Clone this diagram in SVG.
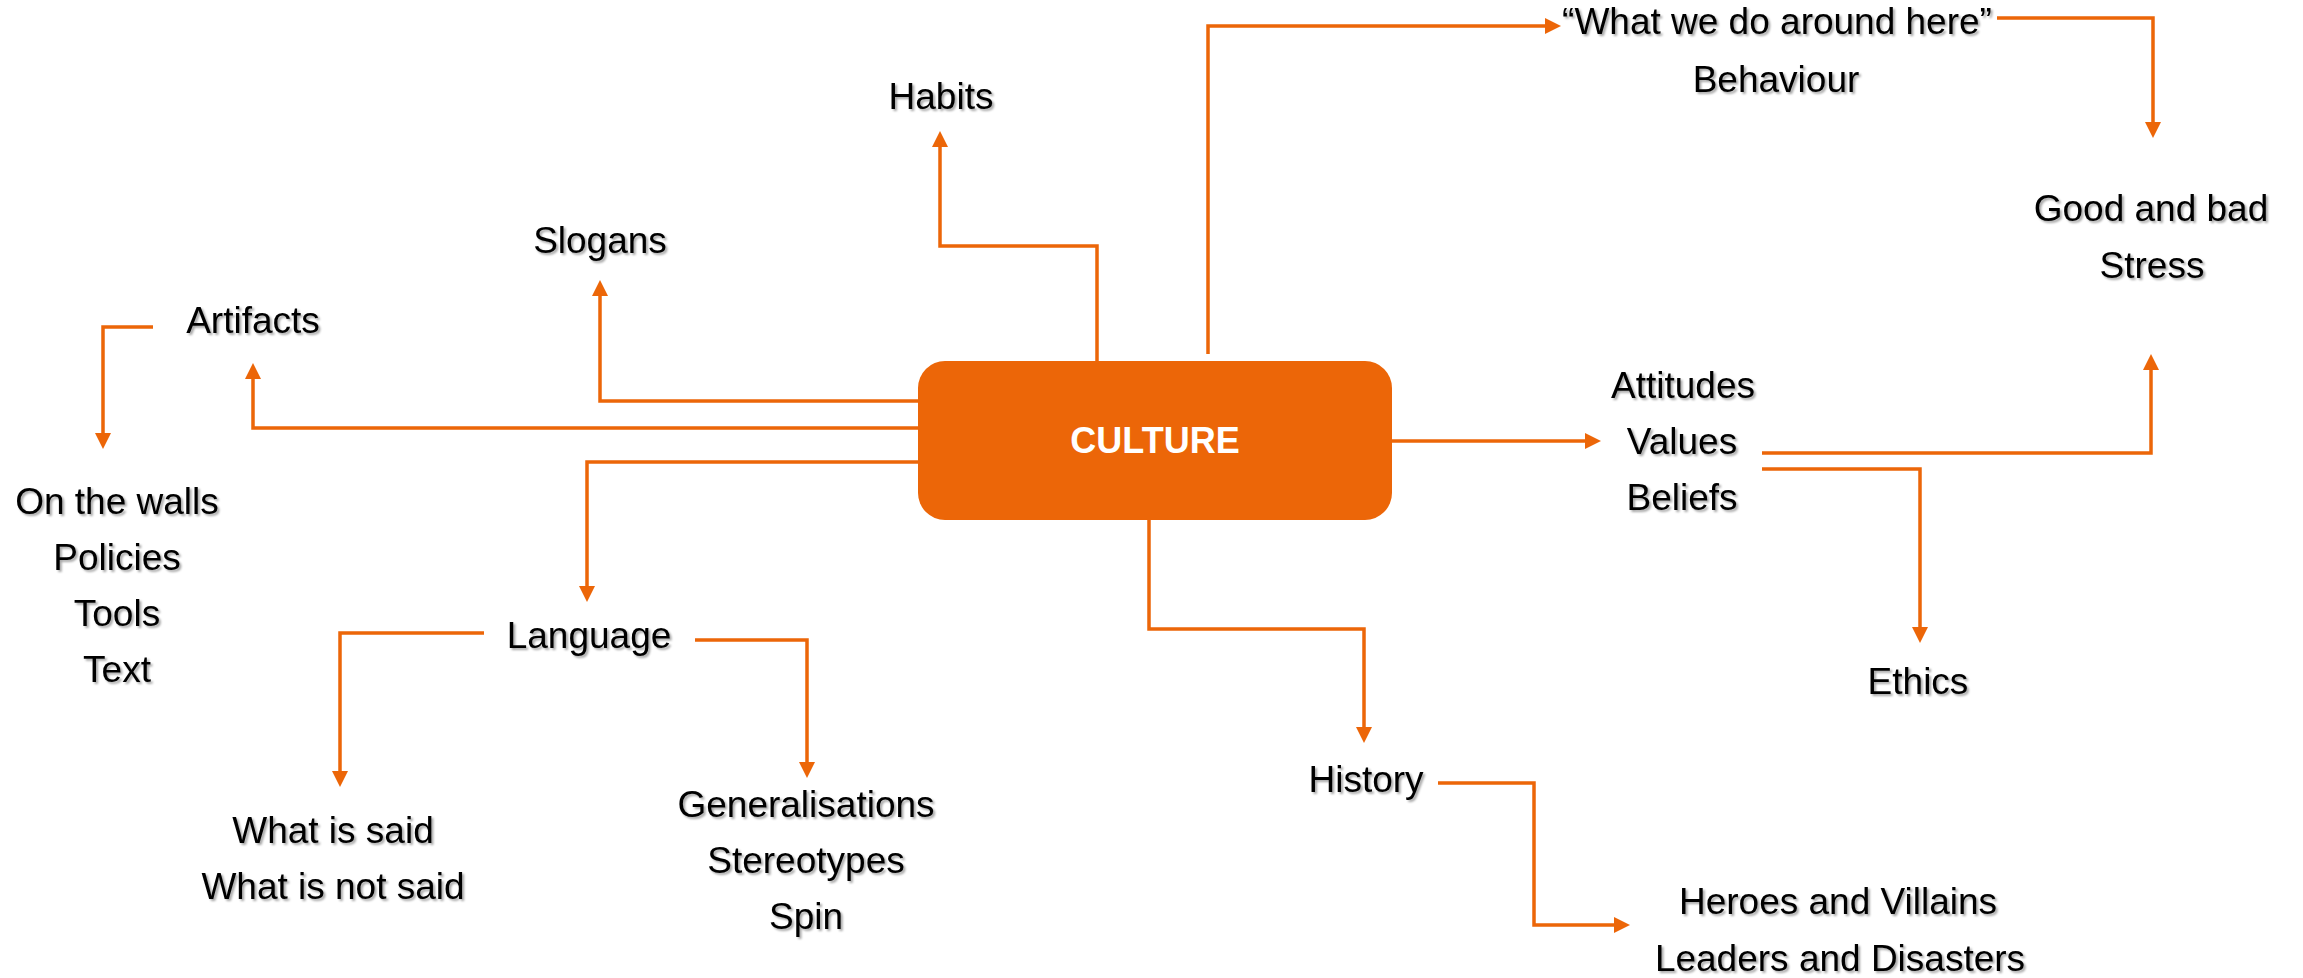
<svg xmlns="http://www.w3.org/2000/svg" width="2303" height="978" viewBox="0 0 2303 978">
<defs>
<style>
.t{font-family:"Liberation Sans",Arial,sans-serif;font-size:37px;fill:#000;text-anchor:middle;filter:url(#sh)}
.c{fill:none;stroke:#EC6608;stroke-width:3.5;stroke-linejoin:miter;marker-end:url(#arr)}
.box{fill:#EC6608}
.bt{font-family:"Liberation Sans",Arial,sans-serif;font-size:36px;font-weight:bold;fill:#fff;text-anchor:middle}
</style>
<filter id="sh" x="-10%" y="-30%" width="120%" height="160%">
<feDropShadow dx="2" dy="2" stdDeviation="1.2" flood-color="#000" flood-opacity="0.35"/>
</filter>
<marker id="arr" markerUnits="userSpaceOnUse" markerWidth="16" markerHeight="16" viewBox="0 0 16 16" refX="8" refY="8" orient="auto">
<path d="M0,0 L16,8 L0,16 z" fill="#EC6608"/>
</marker>
</defs>
<rect width="2303" height="978" fill="#fff"/>
<g id="connectors">
<path class="c" d="M918,401 H600 V288"/>
<path class="c" d="M918,428 H253 V371"/>
<path class="c" d="M918,462 H587 V594"/>
<path class="c" d="M1097,361 V246 H940 V139"/>
<path class="c" d="M1208,354 V26 H1553"/>
<path class="c" d="M1392,441 H1593"/>
<path class="c" d="M1149,520 V629 H1364 V735"/>
<path class="c" d="M153,327 H103 V441"/>
<path class="c" d="M484,633 H340 V779"/>
<path class="c" d="M695,640 H807 V770"/>
<path class="c" d="M1438,783 H1534 V925 H1622"/>
<path class="c" d="M1762,453 H2151 V362"/>
<path class="c" d="M1762,469 H1920 V635"/>
<path class="c" d="M1997,18 H2153 V130"/>
</g>
<g id="culture">
<rect class="box" x="918" y="361" width="474" height="159" rx="27" ry="27"/>
<text class="bt" x="1155" y="453">CULTURE</text>
</g>
<g id="habits"><text class="t" x="941" y="109">Habits</text></g>
<g id="slogans"><text class="t" x="600" y="253">Slogans</text></g>
<g id="artifacts"><text class="t" x="253" y="333">Artifacts</text></g>
<g id="artifact-items">
<text class="t" x="117" y="514">On the walls</text>
<text class="t" x="117" y="570">Policies</text>
<text class="t" x="117" y="626">Tools</text>
<text class="t" x="117" y="682">Text</text>
</g>
<g id="language"><text class="t" x="589" y="648">Language</text></g>
<g id="said">
<text class="t" x="333" y="843">What is said</text>
<text class="t" x="333" y="899">What is not said</text>
</g>
<g id="generalisations">
<text class="t" x="806" y="817">Generalisations</text>
<text class="t" x="806" y="873">Stereotypes</text>
<text class="t" x="806" y="929">Spin</text>
</g>
<g id="history"><text class="t" x="1366" y="792">History</text></g>
<g id="heroes">
<text class="t" x="1838" y="914">Heroes and Villains</text>
<text class="t" x="1840" y="971">Leaders and Disasters</text>
</g>
<g id="values">
<text class="t" x="1683" y="398">Attitudes</text>
<text class="t" x="1682" y="454">Values</text>
<text class="t" x="1682" y="510">Beliefs</text>
</g>
<g id="ethics"><text class="t" x="1918" y="694">Ethics</text></g>
<g id="behaviour">
<text class="t" x="1777" y="34">“What we do around here”</text>
<text class="t" x="1776" y="92">Behaviour</text>
</g>
<g id="stress">
<text class="t" x="2151" y="221">Good and bad</text>
<text class="t" x="2152" y="278">Stress</text>
</g>
</svg>
